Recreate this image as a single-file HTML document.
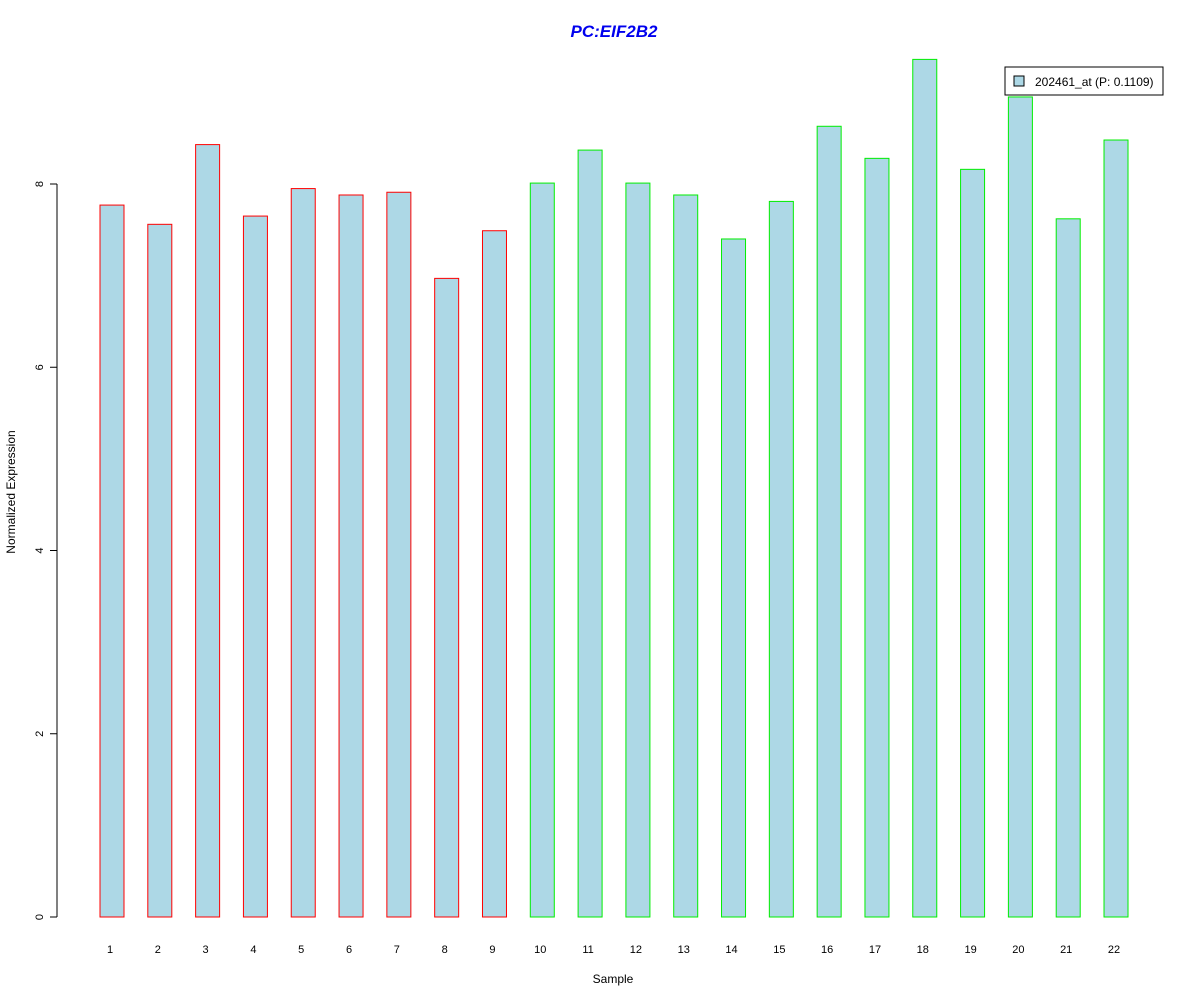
<!DOCTYPE html>
<html><head><meta charset="utf-8"><style>body{margin:0;background:#fff}svg{display:block}</style></head>
<body>
<svg id="chart" width="1200" height="1000" xmlns="http://www.w3.org/2000/svg" font-family="Liberation Sans, sans-serif">
<text x="614" y="37" text-anchor="middle" font-size="17" font-weight="bold" font-style="italic" fill="#0000ee">PC:EIF2B2</text>
<text x="613" y="983" text-anchor="middle" font-size="12">Sample</text>
<text transform="translate(15,492) rotate(-90)" text-anchor="middle" font-size="12">Normalized Expression</text>
<g id="bars"></g><g id="xlabels"></g><g id="yaxis"></g>
<g>
<rect x="1005" y="67" width="158" height="28" fill="#fff" stroke="#000"/>
<rect x="1014" y="76" width="10" height="10" fill="#add8e6" stroke="#000"/>
<text x="1035" y="86" font-size="12">202461_at (P: 0.1109)</text>
</g>
</svg>
<script>
const categories=["1","2","3","4","5","6","7","8","9","10","11","12","13","14","15","16","17","18","19","20","21","22"];
const values=[7.77,7.56,8.43,7.65,7.95,7.88,7.91,6.97,7.49,8.01,8.37,8.01,7.88,7.40,7.81,8.63,8.28,9.36,8.16,8.95,7.62,8.48];
const groups=["red","red","red","red","red","red","red","red","red","green","green","green","green","green","green","green","green","green","green","green","green","green"];
const yTicks=[0,2,4,6,8];
const NS="http://www.w3.org/2000/svg";
const y=v=>917-v*91.625;
const x=i=>112+i*47.81;
const bars=document.getElementById('bars'),xl=document.getElementById('xlabels'),ya=document.getElementById('yaxis');
function mk(t,a){const e=document.createElementNS(NS,t);for(const k in a)e.setAttribute(k,a[k]);return e;}
values.forEach((v,i)=>{
 const r=mk('rect',{x:x(i)-12,y:y(v),width:24,height:y(0)-y(v),fill:'#add8e6',stroke:groups[i]==='red'?'#ff0000':'#00ee00'});
 
 
 bars.appendChild(r);
 const t=mk('text',{x:x(i)-2,y:953,'text-anchor':'middle','font-size':11});
 
 
 t.textContent=categories[i];xl.appendChild(t);
});
ya.appendChild(mk('line',{x1:57,x2:57,y1:y(0),y2:y(8),stroke:'#000'}));
yTicks.forEach(v=>{
 ya.appendChild(mk('line',{x1:50,x2:57,y1:y(v),y2:y(v),stroke:'#000'}));
 const t=mk('text',{transform:`translate(43,${y(v)}) rotate(-90)`,'text-anchor':'middle','font-size':11});
 
 
 t.textContent=v;ya.appendChild(t);
});
</script>
</body></html>
